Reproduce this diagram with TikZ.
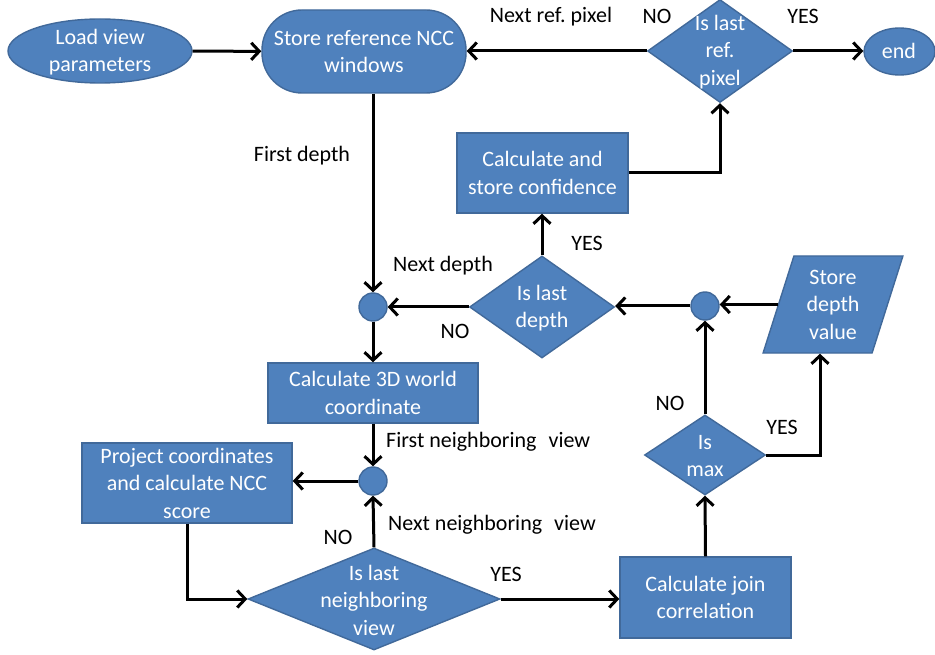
\documentclass[tikz,border=0pt]{standalone}
\usepackage{fontspec}
\setmainfont{Carlito}
\usetikzlibrary{shapes.geometric,arrows.meta}
\definecolor{boxfill}{HTML}{4F81BD}
\definecolor{boxline}{HTML}{41699A}
\frenchspacing

\begin{document}
\begin{tikzpicture}[x=1pt,y=-1pt,
  font=\fontsize{22}{27.5}\selectfont,
  shapebase/.style={fill=boxfill, draw=boxline, line width=1.4pt, inner sep=0pt},
  procbox/.style={shapebase, rectangle, text=white, align=center},
  decision/.style={shapebase, diamond},
  joint/.style={shapebase, circle, minimum size=28pt},
  inside/.style={text=white, align=center, inner sep=0pt},
  lab/.style={text=black, inner sep=0pt},
  flow/.style={line width=3pt, -{Straight Barb[length=8pt,width=17pt]}}
]
\fill[white] (0,0) rectangle (935,655);
\useasboundingbox (0,0) rectangle (935,655);

% ---- top row
\node[shapebase, ellipse, minimum width=184pt, minimum height=64pt] (load) at (100,51) {};
\node[inside] (loadtxt) at (100,52) {Load view\\parameters};

\node[procbox, rounded corners=40pt, minimum width=204pt, minimum height=83pt] (store) at (364,51.5)
  {Store reference NCC\\windows};

\node[decision, minimum width=145pt, minimum height=103pt] (lastpix) at (720,51) {};
\node[inside] (lastpixtxt) at (720,52) {Is last\\ref.\\pixel};

\node[shapebase, ellipse, minimum width=71pt, minimum height=47pt] (finish) at (899.5,51.5) {};
\node[inside] (finishtxt) at (899,51) {end};

\node[procbox, minimum width=171pt, minimum height=80pt] (conf) at (542.5,173)
  {Calculate and\\store confidence};

% ---- depth loop
\node[joint] (c1) at (373,307) {};
\node[decision, minimum width=145pt, minimum height=102pt] (lastdep) at (542,307) {};
\node[inside] (lastdeptxt) at (542,308) {Is last\\depth};

\node[procbox, minimum width=210pt, minimum height=60pt] (world) at (373,393)
  {Calculate 3D world\\coordinate};

\node[joint] (c3) at (705,306) {};
\node[shapebase, trapezium, trapezium left angle=73, trapezium right angle=107,
      trapezium stretches=true, minimum width=140pt, minimum height=97pt,
      inner sep=2pt, text=white, align=center] (depth) at (833,304.5) {Store\\depth\\value};

\node[decision, minimum width=121pt, minimum height=80pt] (ismax) at (705,455) {};
\node[inside] (ismaxtxt) at (705,456) {Is\\max};

% ---- neighbouring view loop
\node[joint] (c2) at (373,481) {};
\node[procbox, minimum width=210pt, minimum height=80pt] (proj) at (187,483)
  {Project coordinates\\and calculate NCC\\score};

\node[decision, minimum width=252pt, minimum height=102pt] (lastnb) at (374,599) {};
\node[inside] (lastnbtxt) at (374,600) {Is last\\neighboring\\view};

\node[procbox, minimum width=171pt, minimum height=81pt] (join) at (705.5,597.5)
  {Calculate join\\correlation};

\coordinate (yesup) at (820,0);

% ---- connectors
\draw[flow] (load) -- (store);
\draw[flow] (lastpix.west) -- (lastpix.west -| store.east);
\draw[flow] (lastpix.east) -- (lastpix.east -| finish.west);
\draw[flow] (conf.east) -| (lastpix.south);
\draw[flow] (c1 |- store.south) -- (c1.north);
\draw[flow] (lastdep.west) -- (c1.east);
\draw[flow] (lastdep.north) -- (lastdep.north |- conf.south);
\draw[flow] (c1.south) -- (world.north);
\draw[flow] (world.south) -- (c2.north);
\draw[flow] (c2.west) -- (c2.west -| proj.east);
\draw[flow] (proj.south) |- (lastnb.west);
\draw[flow] (lastnb.north) -- (c2.south);
\draw[flow] (lastnb.east) -- (lastnb.east -| join.west);
\draw[flow] (join.north) -- (ismax.south);
\draw[flow] (ismax.north) -- (c3.south);
\draw[flow] (ismax.east) -| (yesup |- depth.south);
\draw[flow] (depth.west) -- (depth.west -| c3.east);
\draw[flow] (c3.west) -- (c3.west -| lastdep.east);

% ---- branch labels
\node[lab] (l1) at (551,17) {Next ref. pixel};
\node[lab] (l2) at (657,16) {NO};
\node[lab] (l3) at (803,16) {YES};
\node[lab] (l4) at (302,156) {First depth};
\node[lab] (l5) at (443,266) {Next depth};
\node[lab] (l6) at (455,331) {NO};
\node[lab] (l7) at (587,243) {YES};
\node[lab] (l8) at (670,403) {NO};
\node[lab] (l9) at (782,427) {YES};
\node[lab, anchor=west] (l10) at (386,442) {First neighboring\hspace{12pt}view};
\node[lab, anchor=west] (l11) at (388,525) {Next neighboring\hspace{12pt}view};
\node[lab] (l12) at (338,537) {NO};
\node[lab] (l13) at (506,574) {YES};
\end{tikzpicture}
\end{document}
